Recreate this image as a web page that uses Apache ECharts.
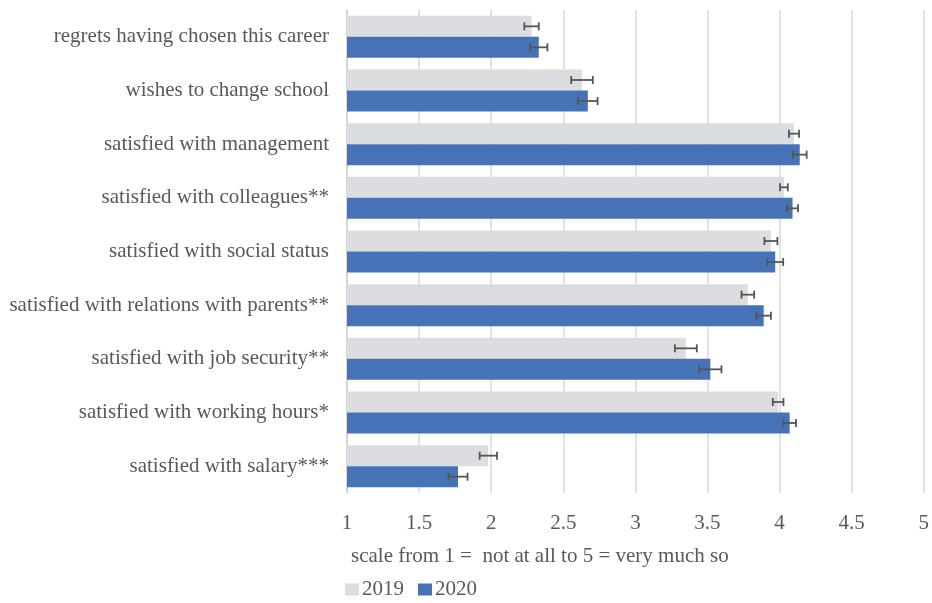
<!DOCTYPE html>
<html>
<head>
<meta charset="utf-8">
<script src="https://cdn.jsdelivr.net/npm/echarts@6/dist/echarts.min.js"></script>
<style>
  html, body { margin: 0; padding: 0; background: #fff; }
  #chart { width: 932px; height: 603px; }
</style>
</head>
<body>
<div id="chart"></div>
<script>
// data
const categories = [
  "regrets having chosen this career",
  "wishes to change school",
  "satisfied with management",
  "satisfied with colleagues**",
  "satisfied with social status",
  "satisfied with relations with parents**",
  "satisfied with job security**",
  "satisfied with working hours*",
  "satisfied with salary***"
];
const values2019 = [2.28, 2.63, 4.10, 4.03, 3.94, 3.78, 3.35, 3.99, 1.98];
const values2020 = [2.33, 2.67, 4.14, 4.09, 3.97, 3.89, 3.52, 4.07, 1.77];
const err2019 = [0.05, 0.075, 0.035, 0.027, 0.045, 0.044, 0.076, 0.037, 0.06];
const err2020 = [0.06, 0.068, 0.048, 0.038, 0.055, 0.05, 0.077, 0.044, 0.066];
const xTicks = [1, 1.5, 2, 2.5, 3, 3.5, 4, 4.5, 5];

const FONT = "Liberation Serif";
const TEXT = "#595959";
const BAR_W = 21;

// error bar drawing, side = -1 upper bar (2019), +1 lower bar (2020)
function errorRenderer(side) {
  return function (params, api) {
    const v = api.value(0), idx = api.value(1), e = api.value(2);
    const lo = api.coord([v - e, idx]);
    const hi = api.coord([v + e, idx]);
    const y = lo[1] + side * BAR_W / 2;
    const cap = 4;
    const st = { stroke: "#555555", lineWidth: 1.8 };
    return {
      type: "group",
      children: [
        { type: "line", shape: { x1: lo[0], y1: y, x2: hi[0], y2: y }, style: st },
        { type: "line", shape: { x1: lo[0], y1: y - cap, x2: lo[0], y2: y + cap }, style: st },
        { type: "line", shape: { x1: hi[0], y1: y - cap, x2: hi[0], y2: y + cap }, style: st }
      ]
    };
  };
}

const option = {
  animation: false,
  title: {
    text: "scale from 1 =  not at all to 5 = very much so",
    left: 351,
    top: 546,
    padding: 0,
    textStyle: { fontFamily: FONT, fontSize: 21, fontWeight: "normal", color: TEXT }
  },
  legend: {
    data: ["2019", "2020"],
    left: 345,
    top: 579,
    padding: 0,
    icon: "rect",
    itemWidth: 14,
    itemHeight: 12,
    itemGap: 14,
    textStyle: { fontFamily: FONT, fontSize: 21, color: TEXT, padding: [0, 0, 0, -2] }
  },
  grid: { left: 347, right: 7, top: 10, bottom: 110, containLabel: false },
  xAxis: {
    type: "value",
    min: 1,
    max: 5,
    interval: 0.5,
    axisLine: { show: false },
    axisTick: { show: false },
    splitLine: { lineStyle: { color: "#d9d9d9", width: 1.5 } },
    axisLabel: {
      margin: 20,
      fontFamily: FONT,
      fontSize: 21,
      color: TEXT,
      formatter: function (v) {
        return xTicks.indexOf(v) >= 0 ? String(v) : "";
      }
    }
  },
  yAxis: {
    type: "category",
    data: categories,
    inverse: true,
    axisTick: { show: false },
    axisLine: { lineStyle: { color: "#d0d0d0", width: 1.5 } },
    axisLabel: { margin: 18, fontFamily: FONT, fontSize: 21, color: TEXT }
  },
  series: [
    {
      name: "2019",
      type: "bar",
      data: values2019,
      barWidth: BAR_W,
      barGap: "0%",
      itemStyle: { color: "#dcdde0" }
    },
    {
      name: "2020",
      type: "bar",
      data: values2020,
      barWidth: BAR_W,
      barGap: "0%",
      itemStyle: { color: "#4672b8" }
    },
    {
      type: "custom",
      renderItem: errorRenderer(-1),
      encode: { x: 0, y: 1 },
      data: values2019.map((v, i) => [v, i, err2019[i]]),
      z: 5,
      silent: true
    },
    {
      type: "custom",
      renderItem: errorRenderer(1),
      encode: { x: 0, y: 1 },
      data: values2020.map((v, i) => [v, i, err2020[i]]),
      z: 5,
      silent: true
    }
  ]
};

const myChart = echarts.init(document.getElementById("chart"));
myChart.setOption(option);
</script>
</body>
</html>
